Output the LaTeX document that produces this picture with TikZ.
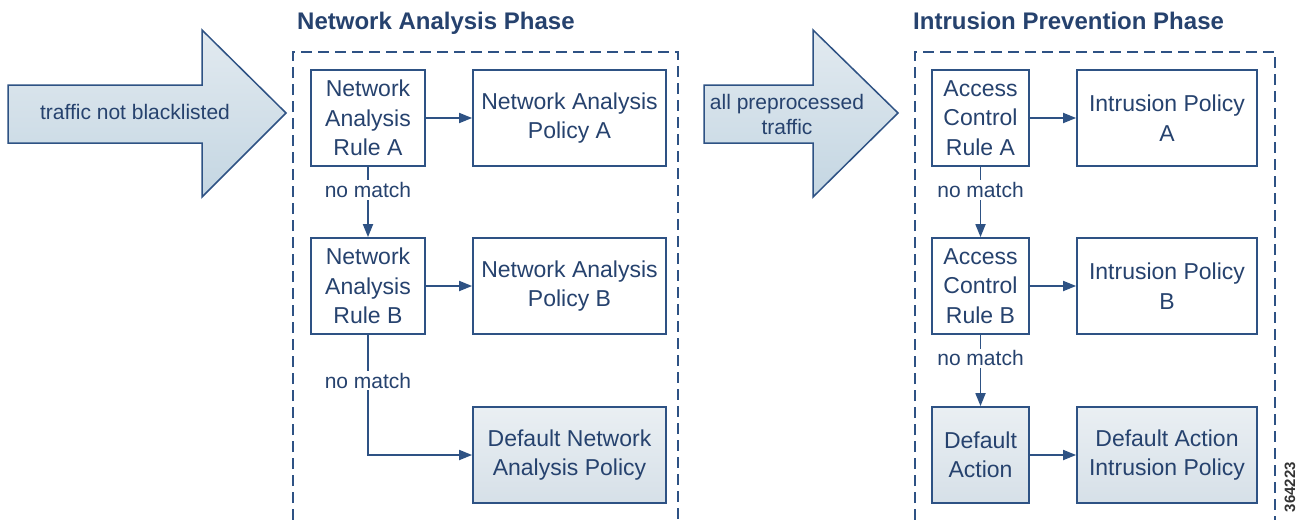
\documentclass[tikz,border=0pt]{standalone}
\usepackage{fontspec}
\setmainfont{Liberation Sans}
\usetikzlibrary{arrows.meta}
\definecolor{lc}{RGB}{46,82,132}
\definecolor{tc}{RGB}{38,66,110}
\definecolor{atop}{RGB}{226,234,240}
\definecolor{abot}{RGB}{196,214,226}
\definecolor{dtop}{RGB}{234,239,243}
\definecolor{dbot}{RGB}{214,224,232}
\tikzset{
  box/.style={draw=lc, line width=1.8, fill=white, align=center, text=tc,
    font=\fontsize{23}{29.5}\selectfont, inner sep=0},
  dbox/.style={box, top color=dtop, bottom color=dbot},
  bigarrow/.style={draw=lc, line width=1.5, top color=atop, bottom color=abot},
  arrtext/.style={text=tc, align=center, font=\fontsize{21}{25}\selectfont, inner sep=0},
  conn/.style={draw=lc, line width=1.8, -{Triangle[length=13,width=10]}},
  lbl/.style={fill=white, text=tc, font=\fontsize{21}{25}\selectfont, inner sep=2},
  frame/.style={draw=lc, line width=2, dash pattern=on 11 off 6},
  title/.style={text=tc, font=\bfseries\fontsize{24}{28}\selectfont, anchor=base west, inner sep=0},
}
\begin{document}
\begin{tikzpicture}[x=1pt,y=-1pt]
\useasboundingbox[fill=white] (0,0) rectangle (1300,519);

% big arrows
\path[bigarrow] (8,85) -- (202,85) -- (202,30) -- (286,113) -- (202,197) -- (202,143) -- (8,143) -- cycle;
\node[arrtext] (t1) at (135,112) {traffic not blacklisted};
\path[bigarrow] (704,85) -- (813,85) -- (813,30) -- (898,113) -- (813,197) -- (813,143) -- (704,143) -- cycle;
\node[arrtext] (t2) at (787,114) {all preprocessed\\traffic};

% titles
\node[title] (ph1) at (297,30) {Network Analysis Phase};
\node[title] (ph2) at (913,30) {Intrusion Prevention Phase};

% frames
\draw[frame] (293,520) -- (293,52) -- (678,52) -- (678,520);
\draw[frame] (915,520) -- (915,52) -- (1275,52) -- (1275,520);

% network analysis phase
\node[box, minimum width=114, minimum height=96] (nra) at (368,118) {Network\\Analysis\\Rule A};
\node[box, minimum width=193, minimum height=96] (npa) at (569.5,118) {Network Analysis\\Policy A};
\node[box, minimum width=114, minimum height=96] (nrb) at (368,286) {Network\\Analysis\\Rule B};
\node[box, minimum width=193, minimum height=96] (npb) at (569.5,286) {Network Analysis\\Policy B};
\node[dbox, minimum width=193, minimum height=96] (npd) at (569.5,455) {Default Network\\Analysis Policy};

\draw[conn] (nra) -- (npa);
\draw[conn] (nrb) -- (npb);
\draw[conn] (nra) -- node[lbl, pos=0.33] (nm1) {no match} (nrb);
\draw[conn] (nrb.south) |- node[lbl, pos=0.19] (nm2) {no match} (npd.west);

% intrusion prevention phase
\node[box, minimum width=97, minimum height=96] (ara) at (980.5,118) {Access\\Control\\Rule A};
\node[box, minimum width=180, minimum height=96] (ipa) at (1167,118) {Intrusion Policy\\A};
\node[box, minimum width=97, minimum height=96] (arb) at (980.5,286) {Access\\Control\\Rule B};
\node[box, minimum width=180, minimum height=96] (ipb) at (1167,286) {Intrusion Policy\\B};
\node[dbox, minimum width=97, minimum height=96] (da) at (980.5,455) {Default\\Action};
\node[dbox, minimum width=180, minimum height=96] (dip) at (1167,455) {Default Action\\Intrusion Policy};

\draw[conn] (ara) -- (ipa);
\draw[conn] (arb) -- (ipb);
\draw[conn] (da) -- (dip);
\draw[conn] (ara) -- node[lbl, pos=0.33] (nm3) {no match} (arb);
\draw[conn] (arb) -- node[lbl, pos=0.33] (nm4) {no match} (da);

% figure number
\node[rotate=90, font=\bfseries\fontsize{15}{15}\selectfont, text=black!80, inner sep=0] (fig) at (1290,487) {364223};
\end{tikzpicture}
\end{document}
